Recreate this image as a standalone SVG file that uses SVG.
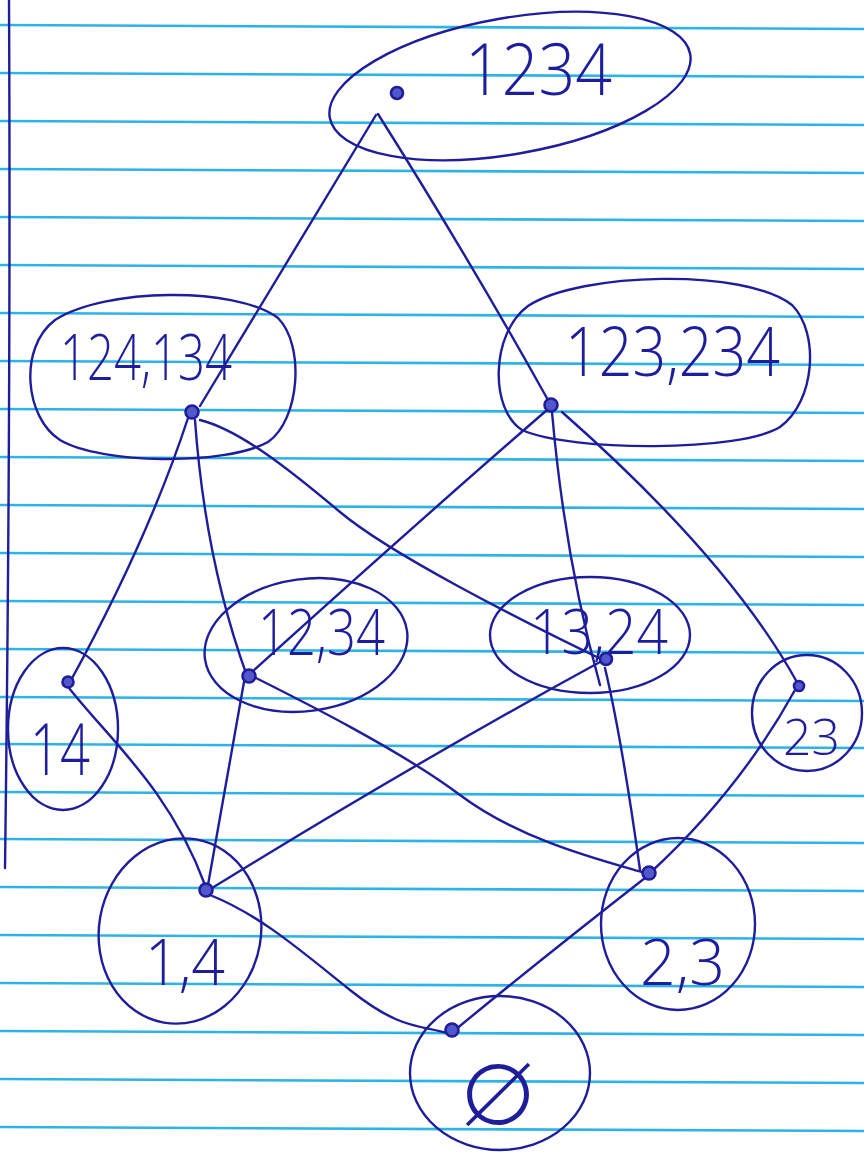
<svg xmlns="http://www.w3.org/2000/svg" width="864" height="1154" viewBox="0 0 864 1154">
<style>
.rule{stroke:#2db3e6;stroke-width:2.6;fill:none}
.pen{stroke:#1e1e9c;stroke-width:2.4;fill:none;stroke-linecap:round}
.ring{stroke:#1e1e9c;stroke-width:2.4;fill:none}
.dot{stroke:#1e1e9c;stroke-width:2.6;fill:#5357cc}
.lbl{font-family:"Open Sans","Liberation Sans",sans-serif;font-weight:300;fill:#1e1e9c}
</style>
<rect width="864" height="1154" fill="#ffffff"/>
<g id="paper">
<path class="rule" d="M0,25 L864,29"/>
<path class="rule" d="M0,73 L864,77"/>
<path class="rule" d="M0,121 L864,125"/>
<path class="rule" d="M0,169 L864,173"/>
<path class="rule" d="M0,217 L864,221"/>
<path class="rule" d="M0,265 L864,269"/>
<path class="rule" d="M0,313 L864,317"/>
<path class="rule" d="M0,361 L864,365"/>
<path class="rule" d="M0,409 L864,413"/>
<path class="rule" d="M0,457 L864,461"/>
<path class="rule" d="M0,505 L864,509"/>
<path class="rule" d="M0,553 L864,557"/>
<path class="rule" d="M0,601 L864,605"/>
<path class="rule" d="M0,649 L864,653"/>
<path class="rule" d="M0,697 L864,701"/>
<path class="rule" d="M0,744 L864,748"/>
<path class="rule" d="M0,792 L864,796"/>
<path class="rule" d="M0,839 L864,843"/>
<path class="rule" d="M0,887 L864,891"/>
<path class="rule" d="M0,935 L864,939"/>
<path class="rule" d="M0,983 L864,987"/>
<path class="rule" d="M0,1031 L864,1035"/>
<path class="rule" d="M0,1079 L864,1083"/>
<path class="rule" d="M0,1127 L864,1131"/>
<path class="pen" d="M9,0 Q11,400 5,868"/>
</g>
<g id="connectors">
<path class="pen" d="M376,115 L200,406"/>
<path class="pen" d="M378,114 Q470,260 548,400"/>
<path class="pen" d="M188,418 Q148,540 70,682"/>
<path class="pen" d="M195,420 Q205,560 247,676"/>
<path class="pen" d="M200,420 C240,430 290,470 340,512 S520,620 603,660"/>
<path class="pen" d="M547,410 Q420,520 252,672"/>
<path class="pen" d="M552,412 Q565,560 600,685"/>
<path class="pen" d="M562,412 Q730,560 798,684"/>
<path class="pen" d="M244,682 L208,885"/>
<path class="pen" d="M252,676 C300,700 400,750 460,795 S600,860 645,873"/>
<path class="pen" d="M600,662 Q420,760 212,888"/>
<path class="pen" d="M605,668 Q622,740 640,870"/>
<path class="pen" d="M69,688 C110,740 170,790 205,885"/>
<path class="pen" d="M795,690 Q740,790 650,873"/>
<path class="pen" d="M210,895 C260,915 300,950 350,990 S420,1025 447,1033"/>
<path class="pen" d="M645,878 Q540,960 455,1030"/>
</g>
<g id="n1234">
<ellipse class="ring" cx="510" cy="86" rx="183" ry="68" transform="rotate(-10 510 86)"/>
<circle class="dot" cx="397" cy="93" r="6"/>
<text class="lbl" x="465" y="95" font-size="72" textLength="147" lengthAdjust="spacingAndGlyphs">1234</text>
</g>
<g id="n124_134">
<path class="ring" d="M55,320 C105,288 235,286 278,318 C305,345 300,420 268,442 C225,466 100,464 60,440 C25,418 18,348 55,320 Z"/>
<circle class="dot" cx="192" cy="412" r="6.5"/>
<text class="lbl" x="60" y="380" font-size="64" textLength="172" lengthAdjust="spacingAndGlyphs">124,134</text>
</g>
<g id="n123_234">
<path class="ring" d="M528,306 C580,272 745,268 792,305 C820,333 815,402 780,427 C740,452 572,452 522,430 C490,410 490,334 528,306 Z"/>
<circle class="dot" cx="551" cy="405" r="6.5"/>
<text class="lbl" x="565" y="376" font-size="68" textLength="215" lengthAdjust="spacingAndGlyphs">123,234</text>
</g>
<g id="n12_34">
<ellipse class="ring" cx="306" cy="645" rx="102" ry="66" transform="rotate(-8 306 645)"/>
<circle class="dot" cx="249" cy="676" r="6.5"/>
<text class="lbl" x="258" y="655" font-size="64" textLength="127" lengthAdjust="spacingAndGlyphs">12,34</text>
</g>
<g id="n13_24">
<ellipse class="ring" cx="590" cy="635" rx="100" ry="58"/>
<circle class="dot" cx="606" cy="659" r="6"/>
<text class="lbl" x="530" y="654" font-size="62" textLength="138" lengthAdjust="spacingAndGlyphs">13,24</text>
</g>
<g id="n14">
<ellipse class="ring" cx="63" cy="729" rx="55" ry="81"/>
<circle class="dot" cx="68" cy="682" r="5.5"/>
<text class="lbl" x="30" y="775" font-size="72" textLength="60" lengthAdjust="spacingAndGlyphs">14</text>
</g>
<g id="n23">
<ellipse class="ring" cx="807" cy="713" rx="55" ry="58"/>
<circle class="dot" cx="799" cy="686" r="5"/>
<text class="lbl" x="783" y="755" font-size="50" textLength="57" lengthAdjust="spacingAndGlyphs">23</text>
</g>
<g id="n1_4">
<ellipse class="ring" cx="180" cy="931" rx="81" ry="93" transform="rotate(10 180 931)"/>
<circle class="dot" cx="206" cy="890" r="6.5"/>
<text class="lbl" x="145" y="985" font-size="64" textLength="80" lengthAdjust="spacingAndGlyphs">1,4</text>
</g>
<g id="n2_3">
<ellipse class="ring" cx="678" cy="924" rx="77" ry="86"/>
<circle class="dot" cx="649" cy="873" r="6.5"/>
<text class="lbl" x="640" y="985" font-size="64" textLength="85" lengthAdjust="spacingAndGlyphs">2,3</text>
</g>
<g id="n_empty">
<ellipse class="ring" cx="500" cy="1073" rx="90" ry="77"/>
<circle class="dot" cx="452" cy="1030" r="6.5"/>
<text x="460" y="1124" font-family="Inter, Lato, 'DejaVu Sans', sans-serif" font-size="108" font-weight="200" fill="#1e1e9c" textLength="76" lengthAdjust="spacingAndGlyphs">∅</text>
</g>
</svg>
